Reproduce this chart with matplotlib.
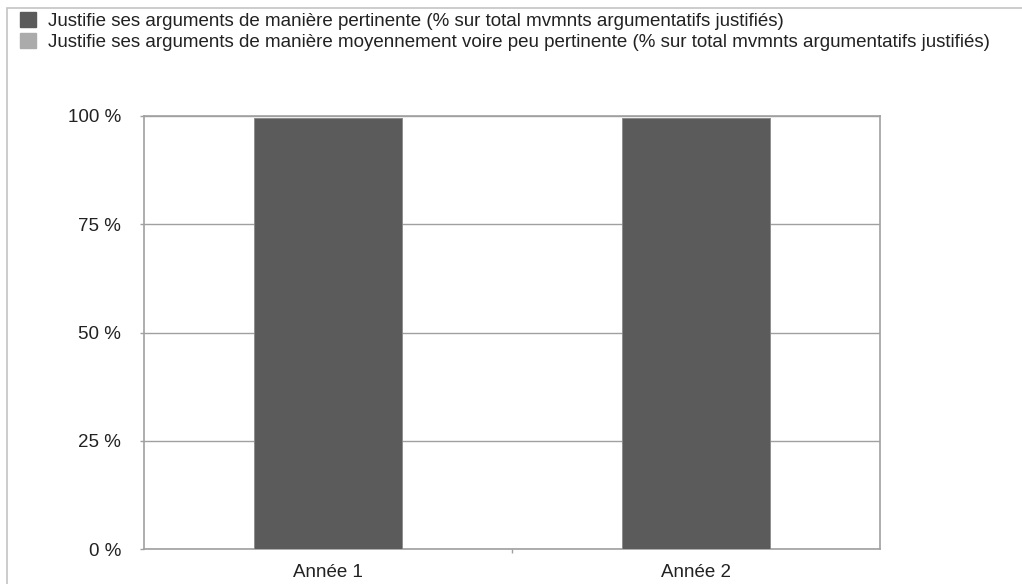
import matplotlib
matplotlib.use("Agg")
import matplotlib.pyplot as plt
from matplotlib.patches import Rectangle
from matplotlib.ticker import FuncFormatter

categories = ["Année 1", "Année 2"]
pertinent = [99.5, 99.5]
peu_pertinent = [0.0, 0.0]
series_labels = [
    "Justifie ses arguments de manière pertinente (% sur total mvmnts argumentatifs justifiés)",
    "Justifie ses arguments de manière moyennement voire peu pertinente (% sur total mvmnts argumentatifs justifiés)",
]
yticks = [0, 25, 50, 75, 100]

plt.rcParams['font.family'] = ['Liberation Sans', 'DejaVu Sans']

W, H = 1022, 584
FS = 13.5
fig = plt.figure(figsize=(W/100, H/100), dpi=100)
ax = fig.add_axes([144/W, 1-549/H, (880-144)/W, (549-116)/H])

# outer frame
fig.patches.append(Rectangle((7/W, -0.1), 1.2, 1-8/H+0.1, transform=fig.transFigure,
                             fill=False, edgecolor='#c4c4c4', linewidth=1.2))

x = range(len(categories))
dark = '#5b5b5b'
light = '#ababab'
ax.bar(x, pertinent, width=0.4, color=dark, edgecolor='#8a8a8a', linewidth=0.6, zorder=3)
ax.bar(x, peu_pertinent, width=0.4, bottom=pertinent, color=light, edgecolor='#8a8a8a',
       linewidth=0.6, zorder=3)

ax.set_xlim(-0.5, len(categories)-0.5)
ax.set_ylim(0, 100)
ax.set_yticks(yticks)
ax.yaxis.set_major_formatter(FuncFormatter(lambda v, p: f"{int(v)} %"))
ax.set_xticks(list(x))
ax.set_xticklabels(categories)
ax.set_xticks([0.5], minor=True)
ax.tick_params(axis='x', which='major', length=0, labelsize=FS, pad=10.5, labelcolor='#222222')
ax.tick_params(axis='x', which='minor', length=2.9, color='#a0a0a0', width=1)
ax.tick_params(axis='y', length=2.9, color='#a0a0a0', width=1, labelsize=FS, pad=13.7,
               labelcolor='#222222')

ax.yaxis.grid(True, color='#a0a0a0', linewidth=1, zorder=0)
ax.set_axisbelow(True)
for s in ax.spines.values():
    s.set_color('#a0a0a0')
    s.set_linewidth(1.2)

# legend
handles = [Rectangle((0, 0), 1, 1, color=dark), Rectangle((0, 0), 1, 1, color=light)]
fig.legend(handles, series_labels, loc='upper left', bbox_to_anchor=(20/W, 1-12/H),
           frameon=False, fontsize=FS, handlelength=0.85, handleheight=0.85,
           handletextpad=0.64, labelspacing=0.17, borderpad=0, borderaxespad=0,
           labelcolor='#222222')

fig.savefig("out.png", dpi=100)
